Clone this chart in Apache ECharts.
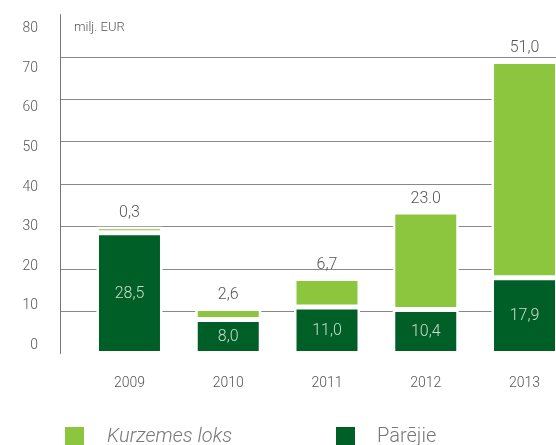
<!DOCTYPE html>
<html>
<head>
<meta charset="utf-8">
<script src="https://cdn.jsdelivr.net/npm/echarts@6/dist/echarts.min.js"></script>
<style>
  html, body { margin: 0; padding: 0; background: #fff; }
  #chart { width: 556px; height: 445px; }
</style>
</head>
<body>
<div id="chart"></div>
<script>
const years = ['2009', '2010', '2011', '2012', '2013']
const otherValues = [28.5, 8.0, 11.0, 10.4, 17.9]
const kurzemesValues = [0.3, 2.6, 6.7, 23.0, 51.0]
const otherLabels = ['28,5', '8,0', '11,0', '10,4', '17,9']
const kurzemesLabels = ['0,3', '2,6', '6,7', '23.0', '51,0']
const yTicks = [0, 10, 20, 30, 40, 50, 60, 70, 80]

const font = '"Roboto Light", Roboto, "Liberation Sans", sans-serif'
const lightGreen = '#8cc63f'
const darkGreen = '#005f27'

const chart = echarts.init(document.getElementById('chart'))

const option = {
  animation: false,
  textStyle: { fontFamily: font },
  grid: [
    // frame: axis line + gridlines
    { left: 60, right: 0, top: 14.6, bottom: 91.5, outerBoundsMode: 'none' },
    // bars, last one runs off the right edge
    { left: 80.1, width: 493.8, top: 14.6, bottom: 91.5, outerBoundsMode: 'none' }
  ],
  legend: [
    {
      left: 58,
      top: 420,
      icon: 'rect',
      itemWidth: 21,
      itemHeight: 21,
      data: [{ name: 'Kurzemes loks', textStyle: { fontStyle: 'italic' } }],
      textStyle: { fontSize: 20, color: '#777', fontWeight: 300, padding: [0, 0, 0, 17] }
    },
    {
      left: 329,
      top: 420,
      icon: 'rect',
      itemWidth: 21,
      itemHeight: 21,
      data: ['Pārējie'],
      textStyle: { fontSize: 20, color: '#777', fontWeight: 300, padding: [0, 0, 0, 16] }
    }
  ],
  graphic: [
    {
      type: 'text',
      left: 74,
      top: 21,
      style: { text: 'milj. EUR', fontSize: 13, fill: '#555', fontWeight: 300, fontFamily: font }
    }
  ],
  xAxis: [
    { gridIndex: 0, type: 'value', show: false, min: 0, max: 1 },
    {
      gridIndex: 1,
      type: 'category',
      data: years,
      axisLine: { show: false },
      axisTick: { show: false },
      axisLabel: { margin: 22, color: '#555', fontSize: 14, fontWeight: 300 }
    }
  ],
  yAxis: [
    {
      gridIndex: 0,
      type: 'value',
      min: 0,
      max: 80,
      interval: 10,
      axisLine: { show: true, lineStyle: { color: '#777', width: 1 } },
      axisTick: { show: false },
      axisLabel: { show: false },
      splitLine: {
        show: true,
        showMinLine: false,
        showMaxLine: false,
        lineStyle: { color: '#888', width: 1 }
      }
    },
    {
      // labels sit a little off the gridlines in the original
      gridIndex: 0,
      type: 'value',
      position: 'left',
      min: -2.145,
      max: 83.38,
      axisLine: { show: false },
      axisTick: { show: false },
      splitLine: { show: false },
      axisLabel: { customValues: yTicks, margin: 22, color: '#555', fontSize: 14, fontWeight: 300 }
    },
    { gridIndex: 1, type: 'value', min: 0, max: 80, show: false }
  ],
  series: [
    {
      name: 'Pārējie',
      type: 'bar',
      stack: 'total',
      xAxisIndex: 1,
      yAxisIndex: 2,
      barWidth: 66,
      data: otherValues,
      itemStyle: { color: darkGreen, borderColor: '#fff', borderWidth: 2.5 },
      label: {
        show: true,
        position: 'inside',
        color: '#cddccd',
        fontSize: 16,
        fontWeight: 300,
        formatter: p => otherLabels[p.dataIndex]
      }
    },
    {
      name: 'Kurzemes loks',
      type: 'bar',
      stack: 'total',
      xAxisIndex: 1,
      yAxisIndex: 2,
      barWidth: 66,
      barMinHeight: 6,
      data: kurzemesValues,
      itemStyle: { color: lightGreen, borderColor: '#fff', borderWidth: 2.5 },
      label: {
        show: true,
        position: 'top',
        distance: 6,
        color: '#555',
        fontSize: 16,
        fontWeight: 300,
        formatter: p => kurzemesLabels[p.dataIndex]
      }
    }
  ]
}

chart.setOption(option)
</script>
</body>
</html>
